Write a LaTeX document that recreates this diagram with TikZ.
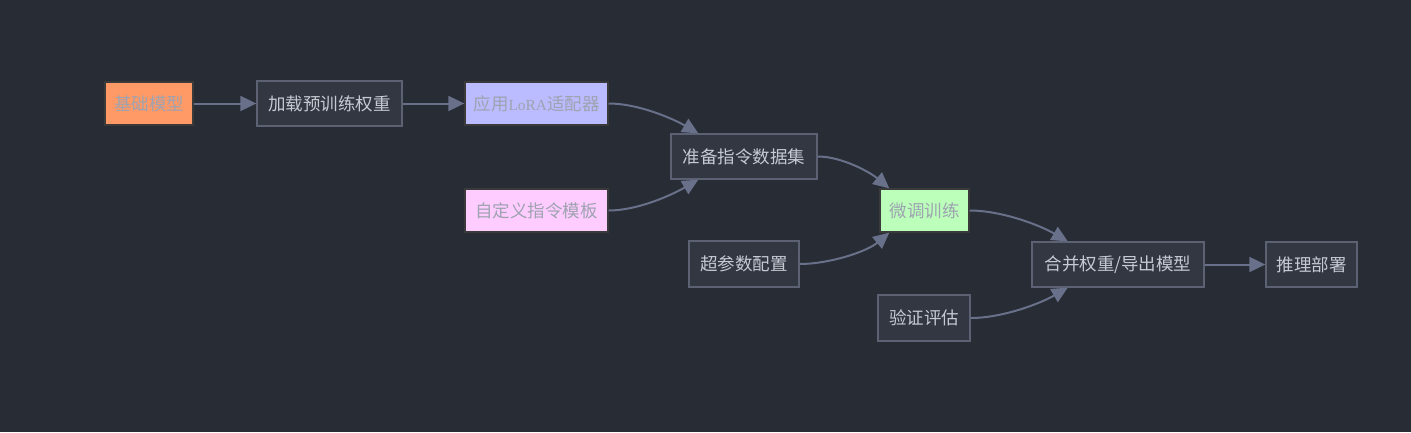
\documentclass[tikz,border=0pt]{standalone}
\usepackage{fontspec}
\setmainfont{Noto Sans CJK SC}
\newfontfamily\latinserif[Scale=0.88]{Liberation Serif}
\usetikzlibrary{arrows.meta,calc}
\definecolor{bg}{HTML}{282C34}
\definecolor{nfill}{HTML}{333742}
\definecolor{nline}{HTML}{5C6274}
\definecolor{ntext}{HTML}{C5CAD3}
\definecolor{ctext}{HTML}{9EA3B0}
\definecolor{cline}{HTML}{3A3A3A}
\definecolor{edge}{HTML}{68708A}
\definecolor{orangef}{HTML}{FF9966}
\definecolor{lavf}{HTML}{BBBBFF}
\definecolor{pinkf}{HTML}{FFCCFF}
\definecolor{greenf}{HTML}{BBFFBB}
\tikzset{
  box/.style={draw=nline, fill=nfill, line width=1.3pt, text=ntext, inner sep=0pt, font=\fontsize{17.5}{19}\selectfont},
  cbox/.style={box, draw=cline, text=ctext},
  conn/.style={draw=edge, line width=2pt, -{Triangle[length=16pt,width=15pt]}},
}
\begin{document}
\begin{tikzpicture}[x=1pt,y=-1pt]
\fill[bg] (0,0) rectangle (1411,432);
\useasboundingbox (0,0) rectangle (1411,432);
\node[cbox, fill=orangef, minimum width=88pt, minimum height=43pt] (base) at (149,103.5) {基础模型};
\node[box, minimum width=145pt, minimum height=45pt] (load) at (329.5,103.5) {加载预训练权重};
\node[cbox, fill=lavf, minimum width=143pt, minimum height=43pt] (lora) at (536.5,103.5) {应用{\latinserif LoRA}适配器};
\node[cbox, fill=pinkf, minimum width=143pt, minimum height=43pt] (tmpl) at (536.5,210.5) {自定义指令模板};
\node[box, minimum width=146pt, minimum height=45pt] (prep) at (744,156.5) {准备指令数据集};
\node[cbox, fill=greenf, minimum width=89pt, minimum height=43pt] (ft) at (924.5,210.5) {微调训练};
\node[box, minimum width=110pt, minimum height=46pt] (hyper) at (744,264) {超参数配置};
\node[box, minimum width=172pt, minimum height=45pt] (merge) at (1118,264.5) {合并权重/导出模型};
\node[box, minimum width=92pt, minimum height=46pt] (eval) at (924,318) {验证评估};
\node[box, minimum width=91pt, minimum height=45pt] (infer) at (1311.5,264.5) {推理部署};

\coordinate (prepT) at ($(prep.north west)!0.19!(prep.north east)$);
\coordinate (prepB) at ($(prep.south west)!0.19!(prep.south east)$);
\coordinate (ftT) at ($(ft.north west)!0.11!(ft.north east)$);
\coordinate (ftB) at ($(ft.south west)!0.11!(ft.south east)$);
\coordinate (mergeT) at ($(merge.north west)!0.21!(merge.north east)$);
\coordinate (mergeB) at ($(merge.south west)!0.21!(merge.south east)$);

\draw[conn] (base.east) -- (load.west);
\draw[conn] (load.east) -- (lora.west);
\draw[conn] (lora.east) to[out=0,in=150,looseness=0.8] (prepT);
\draw[conn] (tmpl.east) to[out=0,in=210,looseness=0.8] (prepB);
\draw[conn] (prep.east) to[out=0,in=140,looseness=0.8] (ftT);
\draw[conn] (hyper.east) to[out=0,in=220,looseness=0.8] (ftB);
\draw[conn] (ft.east) to[out=0,in=150,looseness=0.8] (mergeT);
\draw[conn] (eval.east) to[out=0,in=210,looseness=0.8] (mergeB);
\draw[conn] (merge.east) -- (infer.west);
\end{tikzpicture}
\end{document}
